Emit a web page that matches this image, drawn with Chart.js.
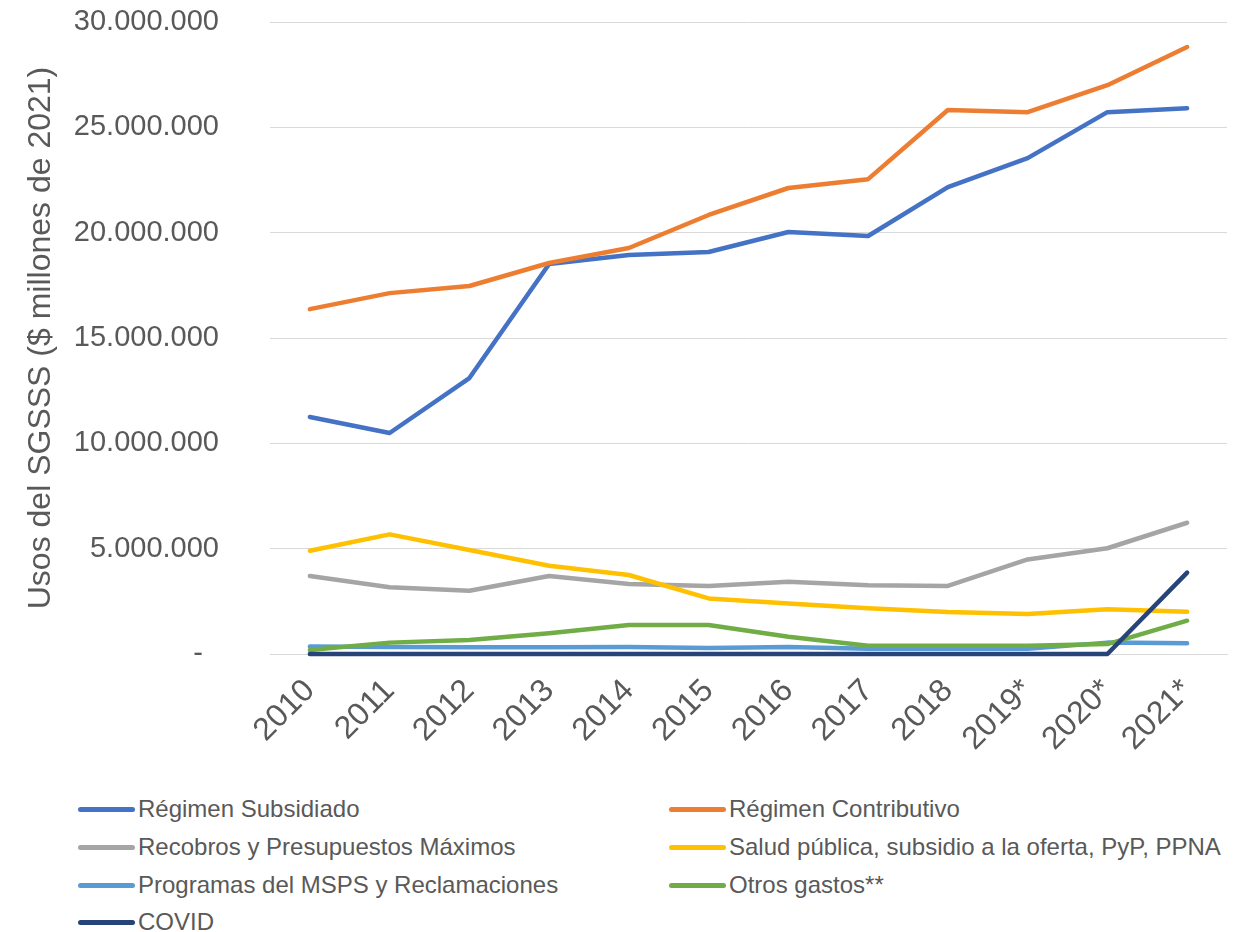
<!DOCTYPE html>
<html>
<head>
<meta charset="utf-8">
<script src="https://cdn.jsdelivr.net/npm/chart.js@4"></script>
<style>
  html, body { margin: 0; padding: 0; background: #ffffff; }
  body { width: 1243px; height: 932px; position: relative; overflow: hidden; font-family: "Liberation Sans", Arial, sans-serif; }
  #wrap { position: absolute; left: 0; top: 0; width: 1243px; height: 780px; }
  .lg { position: absolute; height: 28px; display: flex; align-items: center; font-size: 24px; color: #595959; white-space: nowrap; }
  .lg .sw { width: 57px; height: 5px; border-radius: 3px; margin-right: 3px; }
</style>
</head>
<body>
<div id="wrap"><canvas id="c"></canvas></div>
<div id="legend"></div>
<script>
const years = ['2010','2011','2012','2013','2014','2015','2016','2017','2018','2019*','2020*','2021*'];
const subsidiado   = [11250000,10490000,13100000,18510000,18940000,19080000,20030000,19840000,22160000,23540000,25720000,25910000];
const contributivo = [16370000,17130000,17470000,18560000,19270000,20840000,22120000,22540000,25820000,25720000,27000000,28810000];
const recobros     = [3700000,3170000,3000000,3700000,3320000,3230000,3430000,3260000,3230000,4490000,5020000,6230000];
const saludPublica = [4900000,5680000,4940000,4190000,3750000,2640000,2400000,2170000,1990000,1900000,2120000,2010000];
const programas    = [360000,330000,320000,320000,330000,280000,330000,250000,250000,250000,540000,510000];
const otros        = [190000,540000,660000,980000,1380000,1380000,820000,390000,390000,390000,470000,1580000];
const covid        = [0,0,0,0,0,0,0,0,0,0,0,3860000];
const seriesNames  = ['Régimen Subsidiado','Régimen Contributivo','Recobros y Presupuestos Máximos','Salud pública, subsidio a la oferta, PyP, PPNA','Programas del MSPS y Reclamaciones','Otros gastos**','COVID'];
const seriesData   = [subsidiado, contributivo, recobros, saludPublica, programas, otros, covid];
const seriesColors = ['#4472C4','#ED7D31','#A5A5A5','#FFC000','#5B9BD5','#70AD47','#264478'];

function fmt(v) {
  if (v === 0) return '-  ';
  return String(Math.round(v)).replace(/\B(?=(\d{3})+(?!\d))/g, '.');
}

const datasets = seriesNames.map((n, i) => ({
  label: n,
  data: seriesData[i],
  borderColor: seriesColors[i],
  backgroundColor: seriesColors[i],
  borderWidth: 4.5,
  pointRadius: 0,
  tension: 0,
  fill: false,
  clip: false,
  borderCapStyle: 'round',
  borderJoinStyle: 'round',
  order: seriesNames.length - i
}));

new Chart(document.getElementById('c'), {
  type: 'line',
  data: { labels: years, datasets },
  options: {
    responsive: true,
    maintainAspectRatio: false,
    animation: false,
    layout: { padding: { left: 10, right: 16, top: 22, bottom: 0 } },
    plugins: { legend: { display: false }, tooltip: { enabled: false } },
    scales: {
      x: {
        type: 'category',
        offset: true,
        grid: { display: false, drawTicks: false },
        border: { display: true, color: '#d9d9d9', width: 1 },
        ticks: { color: '#595959', font: { family: '"Liberation Sans", Arial', size: 32 }, maxRotation: 45, minRotation: 45, padding: 18, autoSkip: false },
        afterFit: (s) => { s.height = 780 - 654; }
      },
      y: {
        min: 0, max: 30000000,
        grid: { color: '#d9d9d9', lineWidth: 1, drawTicks: false },
        border: { display: false },
        ticks: { stepSize: 5000000, color: '#595959', font: { family: '"Liberation Sans", Arial', size: 29 }, padding: 51, callback: (v) => fmt(v) },
        title: { display: true, text: 'Usos del SGSSS ($ millones de 2021)', color: '#595959', font: { family: '"Liberation Sans", Arial', size: 32 }, padding: { top: 12, bottom: 0 } },
        afterFit: (s) => { s.width = 270 - 10; s.paddingTop = 0; s.paddingBottom = 0; }
      }
    }
  }
});

const legendPos = [[78,809],[669,809],[78,847],[669,847],[78,885],[669,885],[78,922]];
const lg = document.getElementById('legend');
seriesNames.forEach((n, i) => {
  const d = document.createElement('div');
  d.className = 'lg';
  d.style.left = legendPos[i][0] + 'px';
  d.style.top = (legendPos[i][1] - 14) + 'px';
  const sw = document.createElement('span');
  sw.className = 'sw';
  sw.style.background = seriesColors[i];
  const t = document.createElement('span');
  t.textContent = n;
  d.appendChild(sw); d.appendChild(t);
  lg.appendChild(d);
});
</script>
</body>
</html>
